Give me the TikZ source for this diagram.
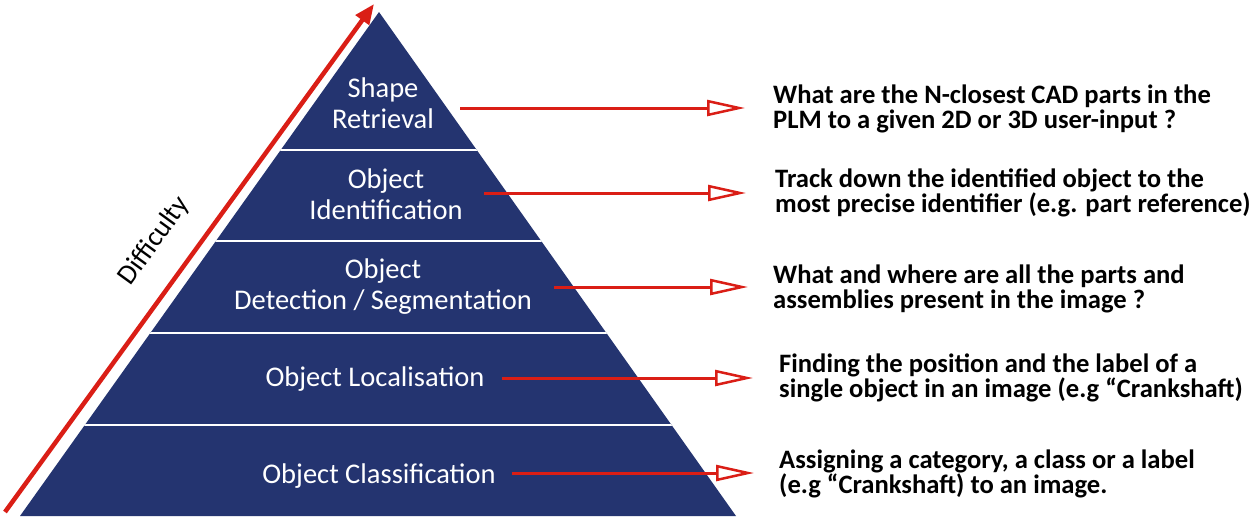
\documentclass[tikz,border=0pt]{standalone}
\usepackage{fontspec}
\setmainfont{Carlito}
\usetikzlibrary{arrows.meta}
\definecolor{navy}{RGB}{36,52,112}
\definecolor{redarrow}{RGB}{218,30,22}
\begin{document}
\begin{tikzpicture}[x=1pt,y=-1pt,
  tier/.style={text=white,font=\fontsize{28.5}{31}\selectfont,align=center,inner sep=0pt,anchor=base},
  desc/.style={text=black,font=\bfseries\fontsize{26.6}{24.5}\selectfont,align=left,anchor=base west,inner sep=0pt},
  arr/.style={draw=redarrow,line width=3pt,-{Triangle[open,length=38pt,width=16pt,line width=2.5pt]}},
  diff/.style={draw=redarrow,line width=4.5pt,-{Triangle[length=20pt,width=16pt]}}]
\useasboundingbox (0,0) rectangle (1250,520);
\fill[white] (0,0) rectangle (1250,520);
% pyramid
\fill[navy] (379,12) -- (736,516) -- (20,516) -- cycle;
\begin{scope}
\clip (379,12) -- (736,516) -- (20,516) -- cycle;
\foreach \y in {150,241,333,425} \draw[white,line width=1.6pt] (0,\y) -- (800,\y);
\end{scope}
% tier labels (base = last line)
\node[tier] (t1) at (383,128) {Shape\\Retrieval};
\node[tier] (t2) at (386,219) {Object\\Identification};
\node[tier] (t3) at (383,309) {Object\\Detection / Segmentation};
\node[tier] (t4) at (375,386) {Object Localisation};
\node[tier] (t5) at (379,483) {Object Classification};
% descriptions (base = last line)
\node[desc] (d1) at (773,128) {What are the N-closest CAD parts in the\\PLM to a given 2D or 3D user-input ?};
\node[desc] (d2) at (775,212) {Track down the identified object to the\\most precise identifier (e.g. part reference)};
\node[desc] (d3) at (773,308) {What and where are all the parts and\\assemblies present in the image ?};
\node[desc] (d4) at (779,397) {Finding the position and the label of a\\single object in an image (e.g “Crankshaft)};
\node[desc] (d5) at (779,493) {Assigning a category, a class or a label\\(e.g “Crankshaft) to an image.};
% arrows
\coordinate (s1) at (460,108); \coordinate (e1) at (745,108);
\coordinate (s2) at (484,193); \coordinate (e2) at (746,193);
\coordinate (s3) at (554,287); \coordinate (e3) at (748,287);
\coordinate (s4) at (502,378); \coordinate (e4) at (753,378);
\coordinate (s5) at (512,473); \coordinate (e5) at (754,473);
\draw[arr] (s1) -- (e1);
\draw[arr] (s2) -- (e2);
\draw[arr] (s3) -- (e3);
\draw[arr] (s4) -- (e4);
\draw[arr] (s5) -- (e5);
% difficulty
\coordinate (dstart) at (5,512);
\coordinate (dend) at (374,4);
\draw[diff] (dstart) -- (dend);
\node[rotate=54,font=\fontsize{28}{28}\selectfont,inner sep=0pt] (dl) at (154,241) {Difficulty};
\end{tikzpicture}
\end{document}
